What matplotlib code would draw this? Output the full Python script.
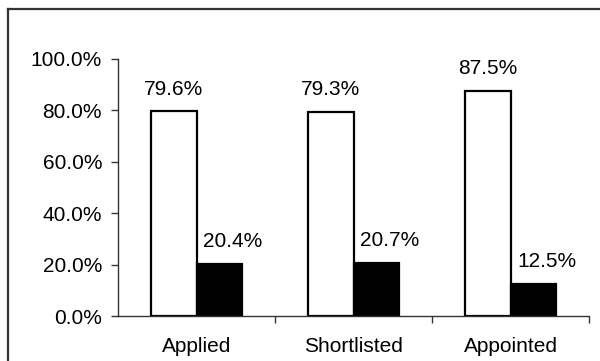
import matplotlib
matplotlib.use("Agg")
import matplotlib.pyplot as plt
from matplotlib.lines import Line2D

categories = ["Applied", "Shortlisted", "Appointed"]
white_vals = [79.6, 79.3, 87.5]
black_vals = [20.4, 20.7, 12.5]
yticks = [0, 20, 40, 60, 80, 100]

plt.rcParams['font.family'] = ['Liberation Sans', 'DejaVu Sans']
FS = 15

fig = plt.figure(figsize=(6.0, 3.61), dpi=100)
ax = fig.add_axes([118/600, 1-316/361, (589-118)/600, (316-59)/361])

x = list(range(len(categories)))
w = 0.29
xw = [i - w/2 for i in x]
xb = [i + w/2 for i in x]
ax.bar(xw, white_vals, width=w, color='white', edgecolor='black', linewidth=1.6, zorder=2)
ax.bar(xb, black_vals, width=w, color='black', edgecolor='black', linewidth=1.6, zorder=2)

for xi, v in zip(xw, white_vals):
    ax.annotate(f"{v:.1f}%", (xi, v), xytext=(0, 16), textcoords='offset points',
                ha='center', va='center', fontsize=FS)
for xi, v in zip(xb, black_vals):
    ax.annotate(f"{v:.1f}%", (xi, v), xytext=(9.5, 16), textcoords='offset points',
                ha='center', va='center', fontsize=FS)

ax.set_xlim(-0.5, len(categories) - 0.5)
ax.set_ylim(0, 100)
ax.set_yticks(yticks)
ax.set_yticklabels([f"{t:.1f}%" for t in yticks], fontsize=FS)
ax.set_xticks(x)
ax.set_xticklabels(categories, fontsize=FS)
ax.set_xticks([i + 0.5 for i in x], minor=True)
ax.tick_params(axis='x', which='major', length=0, pad=15)
ax.tick_params(axis='x', which='minor', length=5, width=1, color='#333333', direction='out')
ax.tick_params(axis='y', length=5, width=1, color='#333333', direction='out', pad=6.5)

for s in ['top', 'right']:
    ax.spines[s].set_visible(False)
for s in ['left', 'bottom']:
    ax.spines[s].set_color('#333333')
    ax.spines[s].set_linewidth(1)

# outer frame (left and top visible)
fig.add_artist(Line2D([7.5/600, 7.5/600], [0, 1-8.5/361], transform=fig.transFigure,
                      color='#333333', linewidth=1.6))
fig.add_artist(Line2D([7.5/600, 1], [1-8.5/361, 1-8.5/361], transform=fig.transFigure,
                      color='#333333', linewidth=1.6))

fig.savefig("out.png", dpi=100)
